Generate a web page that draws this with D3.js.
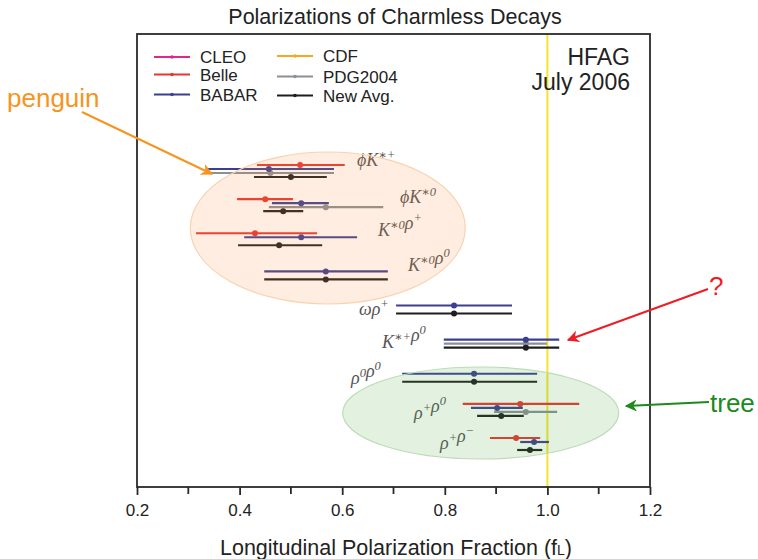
<!DOCTYPE html>
<html>
<head>
<meta charset="utf-8">
<script src="https://cdn.jsdelivr.net/npm/d3@7"></script>
<style>
  body { margin: 0; background: #fff; }
  svg { font-family: "Liberation Sans", Arial, sans-serif; }
</style>
</head>
<body>
<svg id="chart" width="758" height="559"></svg>
<script>
// decays, top to bottom (row index = position in list)
const decays = ["phiK*+", "phiK*0", "K*0rho+", "K*0rho0", "omegarho+", "K*+rho0", "rho0rho0", "rho+rho0", "rho+rho-"];
// label pieces: [text, superscript?]
const decayLabels = [
  [["ϕK", 0], ["∗+", 1]],
  [["ϕK", 0], ["∗0", 1]],
  [["K", 0], ["∗0", 1], ["ρ", 0], ["+", 1]],
  [["K", 0], ["∗0", 1], ["ρ", 0], ["0", 1]],
  [["ωρ", 0], ["+", 1]],
  [["K", 0], ["∗+", 1], ["ρ", 0], ["0", 1]],
  [["ρ", 0], ["0", 1], ["ρ", 0], ["0", 1]],
  [["ρ", 0], ["+", 1], ["ρ", 0], ["0", 1]],
  [["ρ", 0], ["+", 1], ["ρ", 0], ["−", 1]]
];

// measurements: [decay, fL, lower, upper]
const belle = [
  ["phiK*+", 0.518, 0.434, 0.605],
  ["phiK*0", 0.450, 0.395, 0.504],
  ["K*0rho+", 0.430, 0.315, 0.551],
  ["rho+rho0", 0.947, 0.835, 1.062],
  ["rho+rho-", 0.939, 0.888, 0.986]
];
const babar = [
  ["phiK*+", 0.457, 0.334, 0.584],
  ["phiK*0", 0.520, 0.463, 0.574],
  ["K*0rho+", 0.520, 0.409, 0.629],
  ["K*0rho0", 0.568, 0.448, 0.689],
  ["omegarho+", 0.818, 0.705, 0.931],
  ["K*+rho0", 0.958, 0.798, 1.023],
  ["rho0rho0", 0.857, 0.717, 0.980],
  ["rho+rho0", 0.902, 0.851, 0.952],
  ["rho+rho-", 0.974, 0.947, 1.003]
];
const pdg2004 = [
  ["phiK*+", 0.460, 0.334, 0.584],
  ["phiK*0", 0.568, 0.457, 0.680],
  ["K*+rho0", 0.958, 0.798, 0.999],
  ["rho+rho0", 0.958, 0.896, 1.019]
];
const newAvg = [
  ["phiK*+", 0.500, 0.428, 0.570],
  ["phiK*0", 0.485, 0.446, 0.524],
  ["K*0rho+", 0.477, 0.397, 0.561],
  ["K*0rho0", 0.568, 0.448, 0.689],
  ["omegarho+", 0.818, 0.705, 0.931],
  ["K*+rho0", 0.958, 0.798, 1.023],
  ["rho0rho0", 0.857, 0.717, 0.980],
  ["rho+rho0", 0.910, 0.863, 0.954],
  ["rho+rho-", 0.966, 0.941, 0.990]
];

const experiments = [
  { name: "CLEO", color: "#e3268c", data: [], dy: -8 },
  { name: "Belle", color: "#e8352f", data: belle, dy: -4 },
  { name: "BABAR", color: "#3b3f92", data: babar, dy: 0 },
  { name: "CDF", color: "#f7a823", data: [], dy: 0 },
  { name: "PDG2004", color: "#8b9094", data: pdg2004, dy: 4 },
  { name: "New Avg.", color: "#1e1e1e", data: newAvg, dy: 8 }
];
// draw order (under to over)
const drawOrder = ["PDG2004", "Belle", "BABAR", "New Avg."];

const xTicks = [0.2, 0.4, 0.6, 0.8, 1.0, 1.2];
const xMinor = [0.3, 0.5, 0.7, 0.9, 1.1];

const svg = d3.select("#chart");
const M = { left: 137, right: 650, top: 34, bottom: 487 };

const x = d3.scaleLinear().domain([0.2, 1.2]).range([M.left, M.right]);
const row = d3.scalePoint().domain(decays).range([169, 442]);

// title
svg.append("text")
  .attr("x", 395).attr("y", 24)
  .attr("text-anchor", "middle")
  .style("font-size", "21.5px").style("fill", "#222")
  .text("Polarizations of Charmless Decays");

// unity line
svg.append("line")
  .attr("x1", x(1.0)).attr("x2", x(1.0))
  .attr("y1", M.top).attr("y2", M.bottom)
  .style("stroke", "#f2e52a").style("stroke-width", 2);

// measurements
const g = svg.append("g");
drawOrder.forEach(function (name) {
  const e = experiments.find(d => d.name === name);
  const grp = g.append("g");
  grp.selectAll("line")
    .data(e.data)
    .join("line")
    .attr("x1", d => x(d[2])).attr("x2", d => x(d[3]))
    .attr("y1", d => row(d[0]) + e.dy).attr("y2", d => row(d[0]) + e.dy)
    .style("stroke", e.color).style("stroke-width", 2.2);
  grp.selectAll("circle")
    .data(e.data)
    .join("circle")
    .attr("cx", d => x(d[1]))
    .attr("cy", d => row(d[0]) + e.dy)
    .attr("r", 3)
    .style("fill", e.color);
});

// decay labels
const labelPos = {
  "phiK*+": [357, 166], "phiK*0": [400, 203], "K*0rho+": [378, 236], "K*0rho0": [408, 271],
  "omegarho+": [359, 315], "K*+rho0": [382, 348], "rho0rho0": [351, 384], "rho+rho0": [414, 419],
  "rho+rho-": [440, 449]
};
decays.forEach(function (d, i) {
  const t = svg.append("text")
    .attr("x", labelPos[d][0]).attr("y", labelPos[d][1])
    .style("font-family", "'Liberation Serif', 'DejaVu Serif', serif")
    .style("font-style", "italic")
    .style("font-size", "18px")
    .style("fill", "#555");
  decayLabels[i].forEach(function (p) {
    t.append("tspan")
      .attr("dy", p[1] ? -7 : 0)
      .style("font-size", p[1] ? "12.5px" : "18px")
      .text(p[0]);
    if (p[1]) t.append("tspan").attr("dy", 7).text("");
  });
});

// ellipses (on top, translucent)
svg.append("ellipse")
  .attr("cx", x(0.572)).attr("cy", 228)
  .attr("rx", x(0.2 + 0.268) - x(0.2)).attr("ry", 76)
  .style("fill", "rgb(246,145,60)").style("fill-opacity", 0.16)
  .style("stroke", "#f9d2ae").style("stroke-width", 1.2);
svg.append("ellipse")
  .attr("cx", x(0.870)).attr("cy", 413)
  .attr("rx", x(0.2 + 0.269) - x(0.2)).attr("ry", 46)
  .style("fill", "rgb(80,170,70)").style("fill-opacity", 0.16)
  .style("stroke", "#bcdcb6").style("stroke-width", 1.2);

// frame
svg.append("rect")
  .attr("x", M.left).attr("y", M.top)
  .attr("width", M.right - M.left).attr("height", M.bottom - M.top)
  .style("fill", "none").style("stroke", "#2a2a2a").style("stroke-width", 1.8);

// x axis
const axis = svg.append("g").attr("transform", `translate(0,${M.bottom})`);
axis.call(d3.axisBottom(x).tickValues(xTicks).tickSize(8).tickPadding(9).tickFormat(d3.format(".1f")));
axis.select(".domain").remove();
axis.selectAll(".tick line").style("stroke", "#2a2a2a").style("stroke-width", 1.8);
axis.selectAll(".tick text").style("font-size", "17px").style("fill", "#222")
  .style("font-family", "'Liberation Sans', Arial, sans-serif");
svg.append("g").selectAll("line")
  .data(xMinor)
  .join("line")
  .attr("x1", d => x(d)).attr("x2", d => x(d))
  .attr("y1", M.bottom).attr("y2", M.bottom + 7)
  .style("stroke", "#2a2a2a").style("stroke-width", 1.8);

const xl = svg.append("text")
  .attr("x", 396).attr("y", 555)
  .attr("text-anchor", "middle")
  .style("font-size", "21.5px").style("fill", "#222")
  .text("Longitudinal Polarization Fraction (f");
xl.append("tspan").style("font-size", "14px").text("L");
xl.append("tspan").text(")");

// legend
const legendItems = [
  ["CLEO", 154, 57], ["Belle", 154, 74.5], ["BABAR", 154, 94.5],
  ["CDF", 277, 56], ["PDG2004", 277, 76.5], ["New Avg.", 277, 95.5]
];
legendItems.forEach(function (it) {
  const e = experiments.find(d => d.name === it[0]);
  svg.append("line")
    .attr("x1", it[1]).attr("x2", it[1] + 36)
    .attr("y1", it[2]).attr("y2", it[2])
    .style("stroke", e.color).style("stroke-width", 2);
  svg.append("circle")
    .attr("cx", it[1] + 18).attr("cy", it[2]).attr("r", 1.8)
    .style("fill", e.color);
  svg.append("text")
    .attr("x", it[1] + 46).attr("y", it[2] + 6)
    .style("font-size", "17px").style("fill", "#222")
    .text(it[0]);
});

// HFAG stamp
svg.append("text").attr("x", 630).attr("y", 65).attr("text-anchor", "end")
  .style("font-size", "23px").style("fill", "#222").text("HFAG");
svg.append("text").attr("x", 630).attr("y", 90).attr("text-anchor", "end")
  .style("font-size", "23px").style("fill", "#222").text("July 2006");

// annotations
const defs = svg.append("defs");
function marker(id, color) {
  defs.append("marker")
    .attr("id", id).attr("viewBox", "0 0 10 10")
    .attr("refX", 9).attr("refY", 5)
    .attr("markerWidth", 6).attr("markerHeight", 6)
    .attr("orient", "auto")
    .append("path").attr("d", "M0,0 L10,5 L0,10 L3,5 Z").style("fill", color);
}
marker("arrOrange", "#f7941d");
marker("arrRed", "#ee1c25");
marker("arrGreen", "#1c8a1c");

const notes = [
  { text: "penguin", color: "#f7941d", tx: 7, ty: 107, from: [82, 112], to: [212, 174], m: "arrOrange" },
  { text: "?", color: "#ee1c25", tx: 709, ty: 295, from: [708, 289], to: [568, 340], m: "arrRed" },
  { text: "tree", color: "#1c8a1c", tx: 710, ty: 412, from: [709, 402], to: [626, 406], m: "arrGreen" }
];
notes.forEach(function (n) {
  svg.append("line")
    .attr("x1", n.from[0]).attr("y1", n.from[1])
    .attr("x2", n.to[0]).attr("y2", n.to[1])
    .style("stroke", n.color).style("stroke-width", 2)
    .attr("marker-end", `url(#${n.m})`);
  svg.append("text").attr("x", n.tx).attr("y", n.ty)
    .style("font-size", "26px").style("fill", n.color).text(n.text);
});
</script>
</body>
</html>
